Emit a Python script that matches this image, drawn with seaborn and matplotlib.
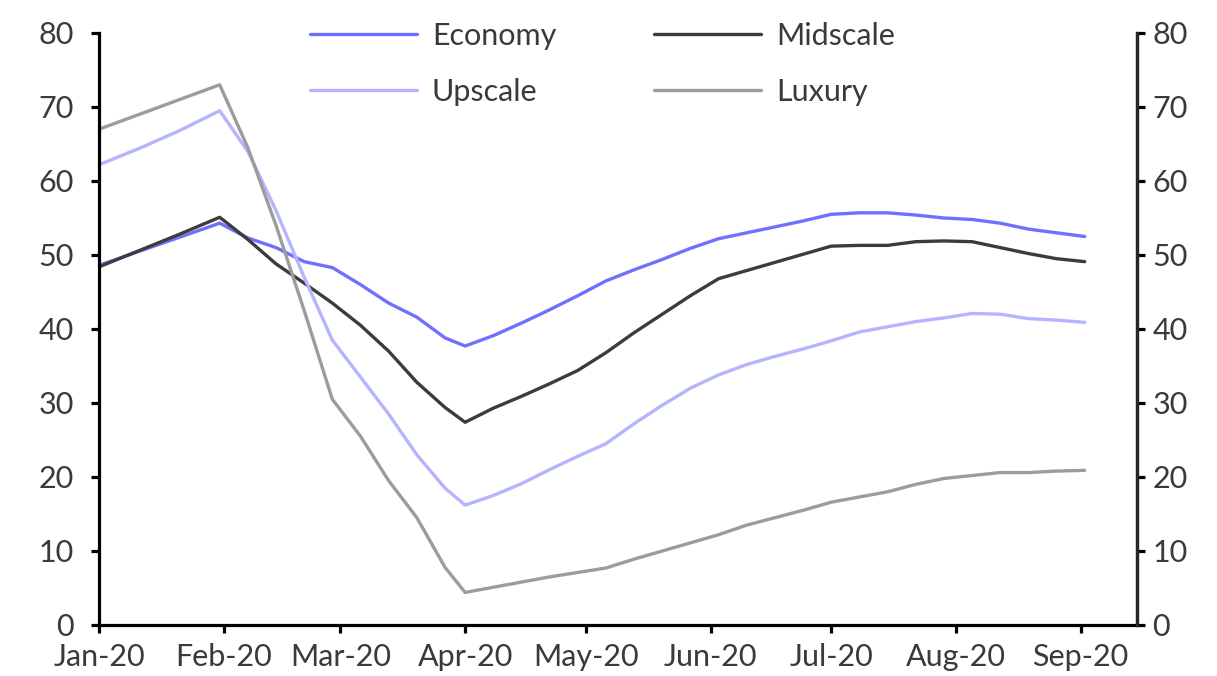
import matplotlib
matplotlib.use('Agg')
import matplotlib.pyplot as plt
import matplotlib.dates as mdates
import seaborn as sns
import pandas as pd

# sample dates (roughly weekly, with the turning points kept)
dates = ['2020-01-01', '2020-01-11', '2020-01-21', '2020-01-31', '2020-02-07', '2020-02-14',
         '2020-02-21', '2020-02-28', '2020-03-06', '2020-03-13', '2020-03-20', '2020-03-27',
         '2020-04-01', '2020-04-08', '2020-04-15', '2020-04-22', '2020-04-29', '2020-05-06',
         '2020-05-13', '2020-05-20', '2020-05-27', '2020-06-03', '2020-06-10', '2020-06-17',
         '2020-06-24', '2020-07-01', '2020-07-08', '2020-07-15', '2020-07-22', '2020-07-29',
         '2020-08-05', '2020-08-12', '2020-08-19', '2020-08-26', '2020-09-02']

economy = [48.6, 50.5, 52.4, 54.3, 52.3, 51.0, 49.1, 48.3, 46.0, 43.5, 41.6, 38.8,
           37.7, 39.1, 40.8, 42.6, 44.5, 46.5, 48.0, 49.4, 50.9, 52.2, 53.0, 53.8,
           54.6, 55.5, 55.7, 55.7, 55.4, 55.0, 54.8, 54.3, 53.5, 53.0, 52.5]
midscale = [48.4, 50.6, 52.8, 55.1, 52.1, 48.8, 46.2, 43.5, 40.5, 37.0, 32.8, 29.4,
            27.4, 29.3, 30.9, 32.6, 34.4, 36.8, 39.5, 42.0, 44.5, 46.8, 47.9, 49.0,
            50.1, 51.2, 51.3, 51.3, 51.8, 51.9, 51.8, 51.0, 50.2, 49.5, 49.1]
upscale = [62.2, 64.4, 66.8, 69.5, 64.0, 56.0, 47.0, 38.5, 33.5, 28.5, 23.0, 18.5,
           16.2, 17.5, 19.1, 21.0, 22.8, 24.5, 27.2, 29.7, 32.0, 33.8, 35.2, 36.3,
           37.3, 38.4, 39.6, 40.3, 41.0, 41.5, 42.1, 42.0, 41.4, 41.2, 40.9]
luxury = [67.0, 69.0, 71.0, 73.0, 64.5, 54.0, 42.5, 30.5, 25.5, 19.5, 14.5, 7.8,
          4.4, 5.1, 5.8, 6.5, 7.1, 7.7, 8.9, 10.0, 11.1, 12.2, 13.5, 14.5,
          15.5, 16.6, 17.3, 18.0, 19.0, 19.8, 20.2, 20.6, 20.6, 20.8, 20.9]

series_names = ['Economy', 'Midscale', 'Upscale', 'Luxury']
colors = ['#7070ff', '#3c3c3c', '#b4b4ff', '#9c9c9c']

frames = []
for name, vals in zip(series_names, [economy, midscale, upscale, luxury]):
    frames.append(pd.DataFrame({'date': pd.to_datetime(dates), 'value': vals, 'segment': name}))
df = pd.concat(frames, ignore_index=True)

sns.set_style('ticks')
plt.rcParams['font.family'] = ['Lato', 'DejaVu Sans']
text_grey = '#3a3a3a'
fs = 22

fig = plt.figure(figsize=(12.17, 6.76), dpi=100)
ax = fig.add_axes([99 / 1217, 1 - 625 / 676, (1137 - 99) / 1217, (625 - 33) / 676])

sns.lineplot(data=df, x='date', y='value', hue='segment', hue_order=series_names,
             palette=colors, linewidth=2.4, ax=ax, legend=False)

ax.set_xlim(pd.Timestamp('2020-01-01'), pd.Timestamp('2020-09-15'))
ax.set_ylim(0, 80)
ax.set_yticks(range(0, 81, 10))
ax.xaxis.set_major_locator(mdates.MonthLocator())
ax.xaxis.set_major_formatter(mdates.DateFormatter('%b-%y'))
ax.set_xlabel('')
ax.set_ylabel('')

for side in ['left', 'bottom', 'right']:
    ax.spines[side].set_linewidth(2.3)
    ax.spines[side].set_color('black')
ax.spines['top'].set_visible(False)
ax.tick_params(axis='both', direction='out', length=6, width=2.3, colors='black',
               labelcolor=text_grey, labelsize=fs)
ax.tick_params(axis='y', pad=12)
ax.tick_params(axis='x', pad=7)

ax2 = ax.twinx()
ax2.set_ylim(0, 80)
ax2.set_yticks(range(0, 81, 10))
for side in ['left', 'bottom', 'top']:
    ax2.spines[side].set_visible(False)
ax2.spines['right'].set_linewidth(2.3)
ax2.tick_params(axis='y', direction='out', length=6, width=2.3, colors='black',
                labelcolor=text_grey, labelsize=fs, pad=5)

# legend: column 1 Economy/Upscale, column 2 Midscale/Luxury
lines = ax.get_lines()
handles = {name: line for name, line in zip(series_names, lines)}
order = ['Economy', 'Upscale', 'Midscale', 'Luxury']
ax.legend([handles[n] for n in order], order, loc='center', bbox_to_anchor=(0.485, 0.948),
          ncol=2, frameon=False, fontsize=fs, handlelength=3.5, handletextpad=0.5,
          columnspacing=3.2, labelspacing=0.93, labelcolor=text_grey)

fig.savefig('out.png', dpi=100, facecolor='white')
